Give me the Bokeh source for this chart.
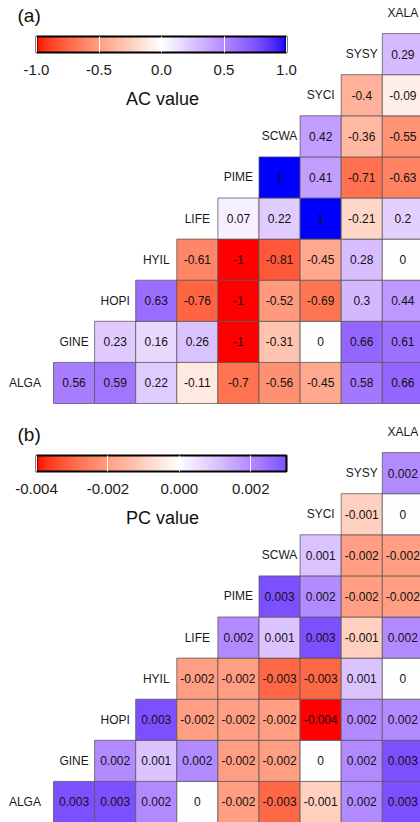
import numpy as np
from bokeh.plotting import figure
from bokeh.layouts import column
from bokeh.models import (ColumnDataSource, Range1d, ColorBar, LinearColorMapper,
                          FixedTicker, PrintfTickFormatter)
from bokeh.transform import linear_cmap
from bokeh.core.properties import value
from bokeh.embed import file_html
from bokeh.resources import INLINE

# ---------------- data ----------------
species = ["ALGA", "GINE", "HOPI", "HYIL", "LIFE", "PIME", "SCWA", "SYCI", "SYSY", "XALA"]

# AC values: each row species paired with the species after it (in order)
ac_alga = [0.56, 0.59, 0.22, -0.11, -0.7, -0.56, -0.45, 0.58, 0.66]
ac_gine = [0.23, 0.16, 0.26, -1, -0.31, 0, 0.66, 0.61]
ac_hopi = [0.63, -0.76, -1, -0.52, -0.69, 0.3, 0.44]
ac_hyil = [-0.61, -1, -0.81, -0.45, 0.28, 0]
ac_life = [0.07, 0.22, 1, -0.21, 0.2]
ac_pime = [1, 0.41, -0.71, -0.63]
ac_scwa = [0.42, -0.36, -0.55]
ac_syci = [-0.4, -0.09]
ac_sysy = [0.29]

# PC values
pc_alga = [0.003, 0.003, 0.002, 0, -0.002, -0.003, -0.001, 0.002, 0.003]
pc_gine = [0.002, 0.001, 0.002, -0.002, -0.002, 0, 0.002, 0.003]
pc_hopi = [0.003, -0.002, -0.002, -0.002, -0.004, 0.002, 0.002]
pc_hyil = [-0.002, -0.002, -0.003, -0.003, 0.001, 0]
pc_life = [0.002, 0.001, 0.003, -0.001, 0.002]
pc_pime = [0.003, 0.002, -0.002, -0.002]
pc_scwa = [0.001, -0.002, -0.002]
pc_syci = [-0.001, 0]
pc_sysy = [0.002]

ac_ticks = [-1.0, -0.5, 0.0, 0.5, 1.0]
ac_limits = [-1.0, 1.0]
pc_ticks = [-0.004, -0.002, 0.0, 0.002]
pc_limits = [-0.004, 0.003]

ac_rows = [ac_alga, ac_gine, ac_hopi, ac_hyil, ac_life, ac_pime, ac_scwa, ac_syci, ac_sysy]
pc_rows = [pc_alga, pc_gine, pc_hopi, pc_hyil, pc_life, pc_pime, pc_scwa, pc_syci, pc_sysy]

# ---------------- colour ramp (Lab interpolation red - white - blue) ----------------
M = np.array([[0.4124564, 0.3575761, 0.1804375],
              [0.2126729, 0.7151522, 0.0721750],
              [0.0193339, 0.1191920, 0.9503041]])
WHITE = np.array([0.95047, 1.0, 1.08883])
D = 6 / 29


def rgb2lab(rgb):
    c = np.array(rgb, dtype=float)
    lin = np.where(c <= 0.04045, c / 12.92, ((c + 0.055) / 1.055) ** 2.4)
    xyz = M @ lin / WHITE
    f = np.where(xyz > D ** 3, np.cbrt(xyz), xyz / (3 * D * D) + 4 / 29)
    return np.array([116 * f[1] - 16, 500 * (f[0] - f[1]), 200 * (f[1] - f[2])])


def lab2hex(lab):
    L, a, b = lab
    fy = (L + 16) / 116
    fx = fy + a / 500
    fz = fy - b / 200
    f = np.array([fx, fy, fz])
    xyz = np.where(f > D, f ** 3, 3 * D * D * (f - 4 / 29)) * WHITE
    lin = np.linalg.solve(M, xyz)
    lin = np.clip(lin, 0, 1)
    c = np.where(lin <= 0.0031308, 12.92 * lin, 1.055 * lin ** (1 / 2.4) - 0.055)
    c = np.clip(np.round(c * 255), 0, 255).astype(int)
    return "#%02x%02x%02x" % tuple(c)


LAB_RED = rgb2lab([1, 0, 0])
LAB_WHITE = rgb2lab([1, 1, 1])
LAB_BLUE = rgb2lab([0, 0, 1])


def ramp(t):
    if t < 0:
        return lab2hex(LAB_WHITE + (LAB_RED - LAB_WHITE) * (-t))
    return lab2hex(LAB_WHITE + (LAB_BLUE - LAB_WHITE) * t)


def palette(t0, t1, n=256):
    return [ramp(t) for t in np.linspace(t0, t1, n)]


# ---------------- layout constants ----------------
UNIT = 41.1     # px per cell
W = 420
FONT = value("Liberation Sans")


def make_panel(rows, limits, ticks, fmt, tag, title, height, bottom_px):
    x0 = -0.5 - 53 / UNIT
    x1 = x0 + W / UNIT
    y0 = -0.5 - (height - bottom_px) / UNIT
    y1 = y0 + height / UNIT

    def px(x):
        return x0 + x / UNIT

    def py(y):
        return y1 - y / UNIT

    p = figure(width=W, height=height, x_range=Range1d(x0, x1), y_range=Range1d(y0, y1),
               output_backend="svg", toolbar_location=None, min_border=0,
               x_axis_location=None, y_axis_location=None)
    p.grid.visible = False
    p.outline_line_color = None
    p.background_fill_color = "white"

    m = max(abs(limits[0]), abs(limits[1]))
    full_pal = palette(-1, 1)

    xs, ys, vs, labs = [], [], [], []
    for r, row in enumerate(rows):
        for k, v in enumerate(row):
            c = r + 1 + k
            xs.append(c - 1)
            ys.append(r)
            vs.append(v)
            labs.append(f"{v:g}")
    src = ColumnDataSource(dict(x=xs, y=ys, v=vs, lab=labs))
    p.rect(x="x", y="y", width=1, height=1, source=src,
           fill_color=linear_cmap("v", full_pal, -m, m),
           line_color="#555555", line_alpha=0.75, line_width=1)
    p.text(x="x", y="y", text="lab", source=src, text_font=FONT,
           text_font_size="12px", text_align="center", text_baseline="middle",
           text_color="#111111")

    # species (diagonal) labels
    sx = [k - 1 for k in range(len(species))]
    sy = [k for k in range(len(species))]
    off = [-8 if k == 0 else 0 for k in range(len(species))]
    lsrc = ColumnDataSource(dict(x=sx, y=sy, t=species, o=off))
    p.text(x="x", y="y", text="t", x_offset="o", source=lsrc, text_font=FONT,
           text_font_size="12px", text_align="center", text_baseline="middle",
           text_color="#1a1a1a")

    # panel tag and legend title
    p.text(x=[px(17)], y=[py(15)], text=[tag], text_font=FONT, text_font_size="19px",
           text_align="left", text_baseline="middle", text_color="#111111")
    p.text(x=[px(162)], y=[py(98)], text=[title], text_font=FONT, text_font_size="18px",
           text_align="center", text_baseline="middle", text_color="#111111")

    bar_mapper = LinearColorMapper(palette=palette(limits[0] / m, limits[1] / m),
                                   low=limits[0], high=limits[1])
    cb = ColorBar(color_mapper=bar_mapper, orientation="horizontal",
                  location="top_left", margin=0, padding=36,
                  width=250, height=16,
                  ticker=FixedTicker(ticks=ticks),
                  formatter=PrintfTickFormatter(format=fmt),
                  major_tick_in=16, major_tick_out=0,
                  major_tick_line_color="white", major_tick_line_width=1,
                  minor_tick_line_color=None,
                  bar_line_color="black", bar_line_width=2,
                  border_line_color=None, background_fill_alpha=0,
                  label_standoff=12,
                  major_label_text_font="Liberation Sans",
                  major_label_text_font_size="15px",
                  major_label_text_color="#1a1a1a")
    p.add_layout(cb)
    return p


pa = make_panel(ac_rows, ac_limits, ac_ticks, "%.1f", "(a)", "AC value", 419, 403)
pb = make_panel(pc_rows, pc_limits, pc_ticks, "%.3f", "(b)", "PC value", 403, 403)

layout = column(pa, pb, spacing=0)
open("out.html", "w").write(file_html(layout, INLINE))
